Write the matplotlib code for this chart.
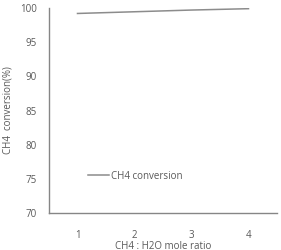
import matplotlib
matplotlib.use("Agg")
import matplotlib.pyplot as plt

categories = ["1", "2", "3", "4"]
ch4_conversion = [99.2, 99.45, 99.7, 99.9]
y_ticks = [70, 75, 80, 85, 90, 95, 100]

plt.rcParams['font.family'] = ['Open Sans', 'DejaVu Sans']
text_color = '#595959'
axis_color = '#868686'

fig = plt.figure(figsize=(2.81, 2.5), dpi=100)
ax = fig.add_axes([49/281, 1-213/250, 228/281, 205/250])

x = list(range(1, len(categories)+1))
ax.plot(x, ch4_conversion, color='#8c8c8c', lw=1.1, label='CH4 conversion')

ax.set_xlim(0.5, len(categories)+0.5)
ax.set_ylim(70, 100)
ax.set_yticks(y_ticks)
ax.set_xticks(x)
ax.set_xticklabels(categories)
ax.tick_params(axis='both', length=0, labelsize=7, colors=text_color)
ax.tick_params(axis='y', pad=8.5)
ax.tick_params(axis='x', pad=12)

for s in ['top', 'right']:
    ax.spines[s].set_visible(False)
for s in ['left', 'bottom']:
    ax.spines[s].set_color(axis_color)
    ax.spines[s].set_linewidth(1.0)

ax.set_ylabel('CH4  conversion(%)', fontsize=7, color=text_color, labelpad=5)
ax.set_xlabel('CH4 : H2O mole ratio', fontsize=7, color=text_color, labelpad=0)

leg = ax.legend(loc='center left', bbox_to_anchor=(0.171, 0.18), frameon=False,
                fontsize=7, handlelength=2.2, handletextpad=0.2, borderaxespad=0,
                borderpad=0)
for t in leg.get_texts():
    t.set_color(text_color)

fig.savefig('out.png', dpi=100)
